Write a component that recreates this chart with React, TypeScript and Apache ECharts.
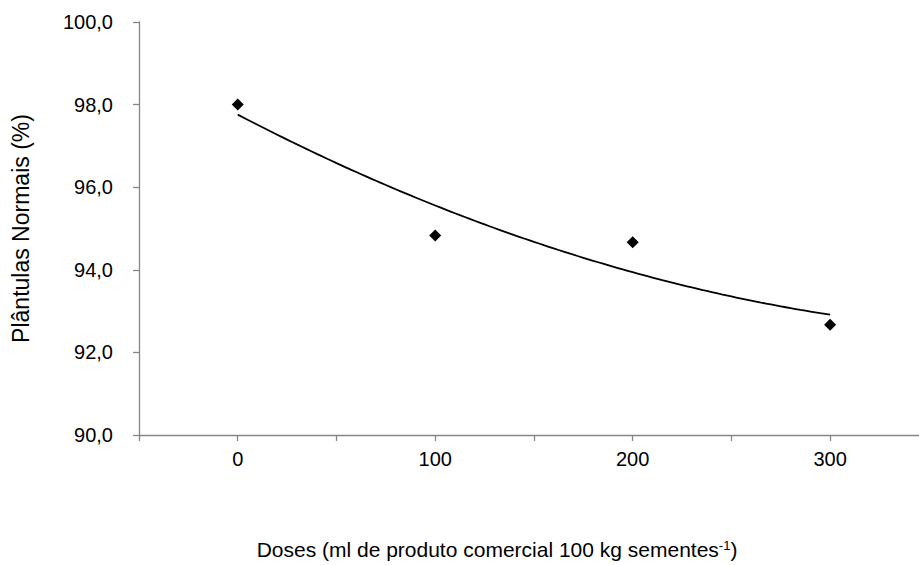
import React, { useEffect, useRef } from "react";
import * as echarts from "echarts";

const doses = [0, 100, 200, 300];
const plantulas = [98.0, 94.83, 94.67, 92.67];
const yTicks = [90, 92, 94, 96, 98, 100];
const xLabels = [0, 100, 200, 300];

// Quadratic least-squares trendline (as in the source spreadsheet)
function quadFit(xs: number[], ys: number[]) {
  const n = xs.length;
  let s0 = n, s1 = 0, s2 = 0, s3 = 0, s4 = 0, t0 = 0, t1 = 0, t2 = 0;
  for (let i = 0; i < n; i++) {
    const x = xs[i], y = ys[i];
    s1 += x; s2 += x * x; s3 += x * x * x; s4 += x * x * x * x;
    t0 += y; t1 += x * y; t2 += x * x * y;
  }
  const M = [
    [s0, s1, s2, t0],
    [s1, s2, s3, t1],
    [s2, s3, s4, t2],
  ];
  for (let i = 0; i < 3; i++) {
    for (let k = i + 1; k < 3; k++) {
      const f = M[k][i] / M[i][i];
      for (let j = i; j < 4; j++) M[k][j] -= f * M[i][j];
    }
  }
  const c = [0, 0, 0];
  for (let i = 2; i >= 0; i--) {
    let s = M[i][3];
    for (let j = i + 1; j < 3; j++) s -= M[i][j] * c[j];
    c[i] = s / M[i][i];
  }
  return (x: number) => c[0] + c[1] * x + c[2] * x * x;
}

export default function App() {
  const ref = useRef<HTMLDivElement>(null);
  useEffect(() => {
    if (!ref.current) return;
    const chart = echarts.init(ref.current, undefined, { renderer: "svg" });
    const f = quadFit(doses, plantulas);
    const x0 = doses[0], x1 = doses[doses.length - 1];
    const trend: number[][] = [];
    for (let i = 0; i <= 60; i++) {
      const x = x0 + ((x1 - x0) * i) / 60;
      trend.push([x, f(x)]);
    }
    const font = "Liberation Sans, Arial, sans-serif";
    chart.setOption({
      animation: false,
      backgroundColor: "#ffffff",
      grid: { left: 139, right: 0, top: 22, bottom: 129, containLabel: false },
      xAxis: {
        type: "value",
        min: -50,
        max: 345,
        interval: 50,
        splitLine: { show: false },
        axisLine: { onZero: false, lineStyle: { color: "#868686", width: 1.3 } },
        axisTick: { show: true, length: 6, lineStyle: { color: "#868686", width: 1.3 } },
        axisLabel: {
          margin: 14,
          color: "#000",
          fontSize: 20,
          fontFamily: font,
          showMaxLabel: false,
          formatter: (v: number) => (xLabels.indexOf(v) >= 0 ? String(v) : ""),
        },
        name: "Doses (ml de produto comercial 100 kg sementes{sup|-1})",
        nameLocation: "middle",
        nameGap: 104,
        nameTextStyle: {
          color: "#000",
          fontSize: 21,
          fontFamily: font,
          padding: [0, 64, 0, 0],
          rich: {
            sup: { fontSize: 13, fontFamily: font, color: "#000", verticalAlign: "top", padding: [0, 0, 8, 0] },
          },
        },
      },
      yAxis: {
        type: "value",
        min: 90,
        max: 100,
        interval: 2,
        splitLine: { show: false },
        axisLine: { show: true, onZero: false, lineStyle: { color: "#868686", width: 1.3 } },
        axisTick: { show: true, length: 6, lineStyle: { color: "#868686", width: 1.3 } },
        axisLabel: {
          margin: 26,
          color: "#000",
          fontSize: 20,
          fontFamily: font,
          formatter: (v: number) => v.toFixed(1).replace(".", ","),
        },
        name: "Plântulas Normais (%)",
        nameLocation: "middle",
        nameGap: 107,
        nameRotate: 90,
        nameTextStyle: { color: "#000", fontSize: 23, fontFamily: font },
      },
      series: [
        {
          type: "line",
          data: trend,
          showSymbol: false,
          symbol: "none",
          smooth: true,
          lineStyle: { color: "#000", width: 1.8 },
          silent: true,
          z: 2,
        },
        {
          type: "scatter",
          data: doses.map((d, i) => [d, plantulas[i]]),
          symbol: "diamond",
          symbolSize: 12,
          itemStyle: { color: "#000", opacity: 1 },
          z: 3,
        },
      ],
    });
    return () => chart.dispose();
  }, []);
  return (
    <div
      ref={ref}
      style={{ position: "absolute", left: 0, top: 0, width: 919, height: 565 }}
    />
  );
}
